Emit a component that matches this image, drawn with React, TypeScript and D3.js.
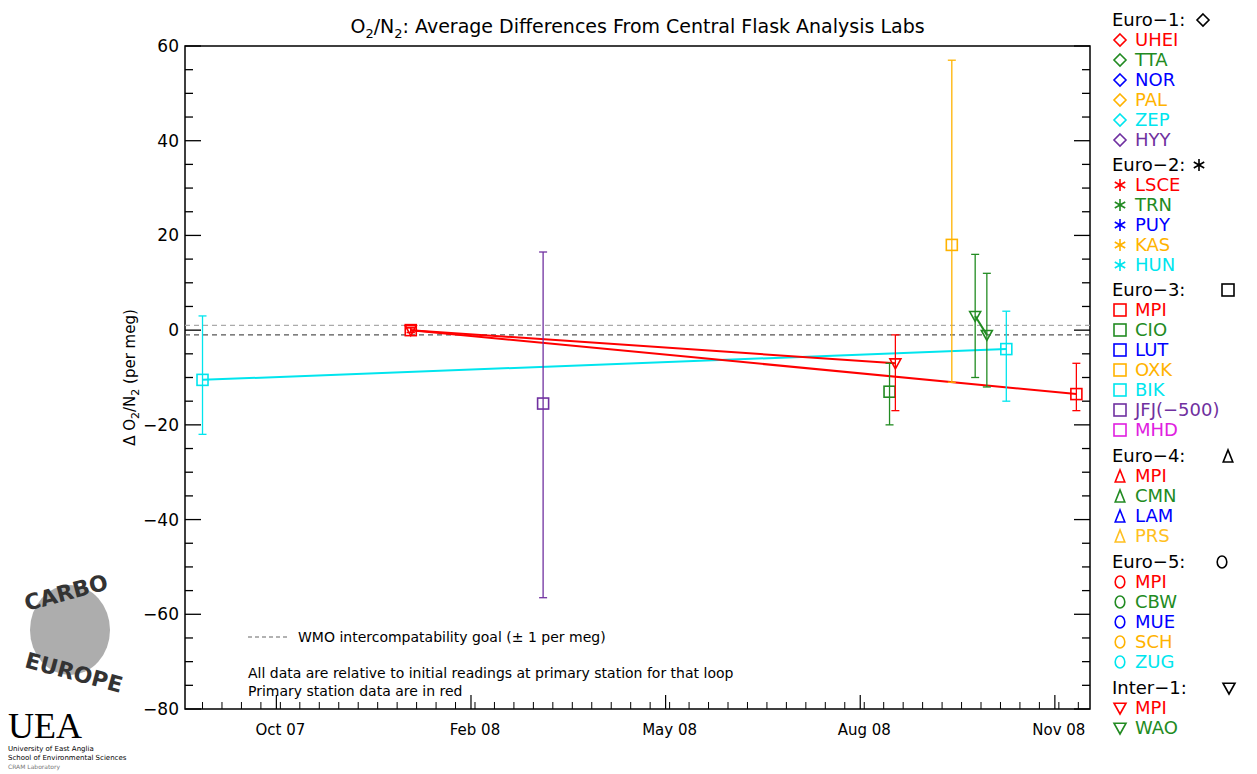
import React from 'react';
import * as d3 from 'd3';

// x in days from start of axis, y in per meg
const tickLabels = ['Oct 07', 'Feb 08', 'May 08', 'Aug 08', 'Nov 08'];
const labelDays = [49, 149, 249, 349, 449];
const yTicks = [-80, -60, -40, -20, 0, 20, 40, 60];

type Pt = { day: number; v: number; lo: number; hi: number; color: string; shape: string };
const points: Pt[] = [
  { day: 9, v: -10.5, lo: -22, hi: 3, color: '#00e5ee', shape: 'sq' },
  { day: 116, v: 0, lo: -0.5, hi: 0.5, color: '#ff0000', shape: 'sq' },
  { day: 116, v: 0, lo: -0.5, hi: 0.5, color: '#ff0000', shape: 'tri' },
  { day: 184, v: -15.5, lo: -56.5, hi: 16.5, color: '#7030a0', shape: 'sq' },
  { day: 362, v: -13, lo: -20, hi: -7, color: '#228b22', shape: 'sq' },
  { day: 365, v: -7, lo: -17, hi: -1, color: '#ff0000', shape: 'tri' },
  { day: 394, v: 18, lo: -11, hi: 57, color: '#ffb300', shape: 'sq' },
  { day: 406, v: 3, lo: -10, hi: 16, color: '#228b22', shape: 'tri' },
  { day: 412, v: -1, lo: -12, hi: 12, color: '#228b22', shape: 'tri' },
  { day: 422, v: -4, lo: -15, hi: 4, color: '#00e5ee', shape: 'sq' },
  { day: 458, v: -13.5, lo: -17, hi: -7, color: '#ff0000', shape: 'sq' },
];
const lines: [number, number, string][] = [
  [0, 9, '#00e5ee'],
  [1, 10, '#ff0000'],
  [2, 5, '#ff0000'],
  [7, 8, '#228b22'],
];

type Grp = { head: string; sym: string; y: number; sx: number; items: [string, string][] };
const legend: Grp[] = [
  { head: 'Euro−1:', sym: 'dia', y: 26, sx: 1203, items: [['UHEI', '#ff0000'], ['TTA', '#228b22'], ['NOR', '#0000ff'], ['PAL', '#ffb300'], ['ZEP', '#00e5ee'], ['HYY', '#7030a0']] },
  { head: 'Euro−2:', sym: 'ast', y: 171, sx: 1199, items: [['LSCE', '#ff0000'], ['TRN', '#228b22'], ['PUY', '#0000ff'], ['KAS', '#ffb300'], ['HUN', '#00e5ee']] },
  { head: 'Euro−3:', sym: 'sq', y: 296, sx: 1228, items: [['MPI', '#ff0000'], ['CIO', '#228b22'], ['LUT', '#0000ff'], ['OXK', '#ffb300'], ['BIK', '#00e5ee'], ['JFJ(−500)', '#7030a0'], ['MHD', '#e020e0']] },
  { head: 'Euro−4:', sym: 'up', y: 462, sx: 1228, items: [['MPI', '#ff0000'], ['CMN', '#228b22'], ['LAM', '#0000ff'], ['PRS', '#ffc020']] },
  { head: 'Euro−5:', sym: 'circ', y: 568, sx: 1222, items: [['MPI', '#ff0000'], ['CBW', '#228b22'], ['MUE', '#0000ff'], ['SCH', '#ffb300'], ['ZUG', '#00e5ee']] },
  { head: 'Inter−1:', sym: 'tri', y: 694, sx: 1229, items: [['MPI', '#ff0000'], ['WAO', '#228b22']] },
];

function Sym({ s, x, y, c, r = 6 }: { s: string; x: number; y: number; c: string; r?: number }) {
  const p = { fill: 'none', stroke: c, strokeWidth: 1.6 };
  if (s === 'sq') return <rect x={x - r} y={y - r} width={2 * r} height={2 * r} {...p} />;
  if (s === 'dia') return <path d={`M${x},${y - r}L${x + r},${y}L${x},${y + r}L${x - r},${y}Z`} {...p} />;
  if (s === 'tri') return <path d={`M${x - r},${y - r * 0.8}L${x + r},${y - r * 0.8}L${x},${y + r}Z`} {...p} />;
  if (s === 'up') return <path d={`M${x - r * 0.8},${y + r}L${x + r * 0.8},${y + r}L${x},${y - r}Z`} {...p} />;
  if (s === 'circ') return <ellipse cx={x} cy={y} rx={r * 0.8} ry={r} {...p} />;
  const a = r * 0.87;
  return <path d={`M${x},${y - r}V${y + r}M${x - a},${y - r / 2}L${x + a},${y + r / 2}M${x - a},${y + r / 2}L${x + a},${y - r / 2}`} {...p} />;
}

export default function App() {
  const W = 1257, H = 774;
  const L = 185, R = 1090, T = 46, B = 709;
  const x = d3.scaleLinear().domain([0, 465]).range([L, R]);
  const y = d3.scaleLinear().domain([-80, 60]).range([B, T]);
  const font = "'DejaVu Sans', sans-serif";
  const minor = d3.range(-80, 61, 5);
  const dayTicks = d3.range(9, 465, 10);
  return (
    <svg width={W} height={H} style={{ position: 'absolute', left: 0, top: 0, fontFamily: font, background: '#fff' }}>
      <text x={(L + R) / 2} y={33} textAnchor="middle" fontSize={19}>
        O<tspan fontSize={13} dy={5}>2</tspan><tspan dy={-5}>/N</tspan><tspan fontSize={13} dy={5}>2</tspan><tspan dy={-5}>: Average Differences From Central Flask Analysis Labs</tspan>
      </text>
      <rect x={L} y={T} width={R - L} height={B - T} fill="none" stroke="#000" strokeWidth={1.5} />
      {minor.map(v => {
        const major = v % 20 === 0;
        const len = major ? 16 : 8;
        return <g key={v}>
          <line x1={L} x2={L + len} y1={y(v)} y2={y(v)} stroke="#000" strokeWidth={1.3} />
          <line x1={R} x2={R - len} y1={y(v)} y2={y(v)} stroke="#000" strokeWidth={1.3} />
        </g>;
      })}
      {yTicks.map(v => <text key={v} x={L - 6} y={y(v) + 6} textAnchor="end" fontSize={17}>{v === 0 ? '0' : String(v).replace('-', '−')}</text>)}
      {dayTicks.map(d => <line key={d} x1={x(d)} x2={x(d)} y1={B} y2={B - 7} stroke="#000" strokeWidth={1} />)}
      {labelDays.map((d, i) => <g key={d}>
        <line x1={x(d) - 4} x2={x(d) - 4} y1={B} y2={B - 14} stroke="#000" strokeWidth={1.2} />
        <text x={x(d)} y={B + 26} textAnchor="middle" fontSize={15}>{tickLabels[i]}</text>
      </g>)}
      <text transform={`translate(${L - 50},${(T + B) / 2}) rotate(-90)`} textAnchor="middle" fontSize={15}>
        Δ O<tspan fontSize={11} dy={4}>2</tspan><tspan dy={-4}>/N</tspan><tspan fontSize={11} dy={4}>2</tspan><tspan dy={-4}> (per meg)</tspan>
      </text>
      <line x1={L} x2={R} y1={y(1)} y2={y(1)} stroke="#aaa" strokeDasharray="5,4" strokeWidth={1.3} />
      <line x1={L} x2={R} y1={y(-1)} y2={y(-1)} stroke="#555" strokeDasharray="5,4" strokeWidth={1.3} />
      {lines.map(([a, b, c], i) => <line key={i} x1={x(points[a].day)} y1={y(points[a].v)} x2={x(points[b].day)} y2={y(points[b].v)} stroke={c} strokeWidth={2} />)}
      {points.map((p, i) => <g key={i}>
        <line x1={x(p.day)} x2={x(p.day)} y1={y(p.lo)} y2={y(p.hi)} stroke={p.color} strokeWidth={1.3} />
        <line x1={x(p.day) - 4} x2={x(p.day) + 4} y1={y(p.lo)} y2={y(p.lo)} stroke={p.color} strokeWidth={1.3} />
        <line x1={x(p.day) - 4} x2={x(p.day) + 4} y1={y(p.hi)} y2={y(p.hi)} stroke={p.color} strokeWidth={1.3} />
        <Sym s={p.shape} x={x(p.day)} y={y(p.v)} c={p.color} r={5.5} />
      </g>)}
      <line x1={248} x2={290} y1={637} y2={637} stroke="#999" strokeDasharray="4,3" strokeWidth={1.3} />
      <text x={298} y={642} fontSize={14}>WMO intercompatability goal (± 1 per meg)</text>
      <text x={248} y={678} fontSize={14}>All data are relative to initial readings at primary station for that loop</text>
      <text x={248} y={696} fontSize={14}>Primary station data are in red</text>
      {legend.map(g => <g key={g.head}>
        <text x={1112} y={g.y} fontSize={18}>{g.head}</text>
        <Sym s={g.sym} x={g.sx} y={g.y - 6} c="#000" r={6} />
        {g.items.map(([n, c], i) => <g key={n + i}>
          <Sym s={g.sym} x={1120} y={g.y + 20 * (i + 1) - 6} c={c} r={6} />
          <text x={1135} y={g.y + 20 * (i + 1)} fontSize={18} fill={c}>{n}</text>
        </g>)}
      </g>)}
      <ellipse cx={70} cy={630} rx={40} ry={45} fill="#999" opacity={0.8} />
      <text x={68} y={600} textAnchor="middle" fontSize={22} fontWeight="bold" fill="#333" transform="rotate(-15 68 600)">CARBO</text>
      <text x={72} y={680} textAnchor="middle" fontSize={22} fontWeight="bold" fill="#333" transform="rotate(15 72 680)">EUROPE</text>
      <text x={8} y={738} fontSize={36} fontFamily="'Liberation Serif', serif">UEA</text>
      <text x={8} y={751} fontSize={7}>University of East Anglia</text>
      <text x={8} y={760} fontSize={7}>School of Environmental Sciences</text>
      <text x={8} y={769} fontSize={6} fill="#777">CRAM Laboratory</text>
    </svg>
  );
}
